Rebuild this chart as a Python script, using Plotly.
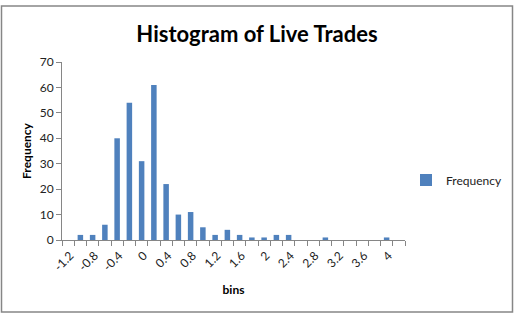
import plotly.graph_objects as go

bins = [-1.2, -1.0, -0.8, -0.6, -0.4, -0.2, 0.0, 0.2, 0.4, 0.6, 0.8, 1.0, 1.2, 1.4,
        1.6, 1.8, 2.0, 2.2, 2.4, 2.6, 2.8, 3.0, 3.2, 3.4, 3.6, 3.8, 4.0]
frequency = [0, 2, 2, 6, 40, 54, 31, 61, 22, 10, 11, 5, 2, 4,
             2, 1, 1, 2, 2, 0, 0, 1, 0, 0, 0, 0, 1, 0]
categories = [f"{round(b, 1):g}" for b in bins] + ["More"]
tick_text = [c if i % 2 == 0 else "" for i, c in enumerate(categories)]
tick_text[-1] = ""

FONT = "Lato, 'Liberation Sans', sans-serif"
L, R, T, B = 62, 119, 62, 78
W, H = 524, 318
pw, ph = W - L - R, H - T - B

def px(x):
    return (x - L) / pw

def py(y):
    return (H - B - y) / ph

fig = go.Figure()
fig.add_trace(go.Bar(x=categories, y=frequency, name="Frequency",
                     marker=dict(color="#4F81BD", line=dict(width=0))))

fig.update_layout(
    width=W, height=H,
    margin=dict(l=L, r=R, t=T, b=B, autoexpand=False),
    paper_bgcolor="white", plot_bgcolor="white",
    font=dict(family=FONT, size=12, color="#222222"),
    bargap=0.55,
    showlegend=True,
    title=dict(text="<b>Histogram of Live Trades</b>", x=257 / W, xanchor="center",
               y=1 - 34 / H, yanchor="middle", yref="container",
               font=dict(family=FONT, size=22, color="black")),
    legend=dict(x=px(406), y=py(180), xanchor="left", yanchor="middle",
                font=dict(family=FONT, size=12, color="#222222"),
                itemwidth=30, bgcolor="rgba(0,0,0,0)"),
    xaxis=dict(type="category", tickmode="array", tickvals=categories, ticktext=tick_text,
               tickangle=-45, tickson="boundaries", ticks="outside", ticklen=5,
               tickcolor="#868686", showline=True, linecolor="#868686", linewidth=1,
               showgrid=False, ticklabelshift=2, ticklabelstandoff=3,
               title=dict(text="<b>bins</b>", font=dict(family=FONT, size=12, color="black"),
                          standoff=12)),
    yaxis=dict(range=[0, 70], dtick=10, ticks="outside", ticklen=5, tickcolor="#868686",
               showline=True, linecolor="#868686", linewidth=1, showgrid=False,
               zeroline=False,
               title=dict(text="<b>Frequency</b>", font=dict(family=FONT, size=12, color="black"),
                          standoff=5)),
    shapes=[dict(type="rect", xref="paper", yref="paper",
                 x0=px(1.5), x1=px(512.5), y0=py(312), y1=py(6),
                 line=dict(color="#868686", width=1.5), fillcolor="rgba(0,0,0,0)", layer="below")],
)

fig.write_html("out.html")
